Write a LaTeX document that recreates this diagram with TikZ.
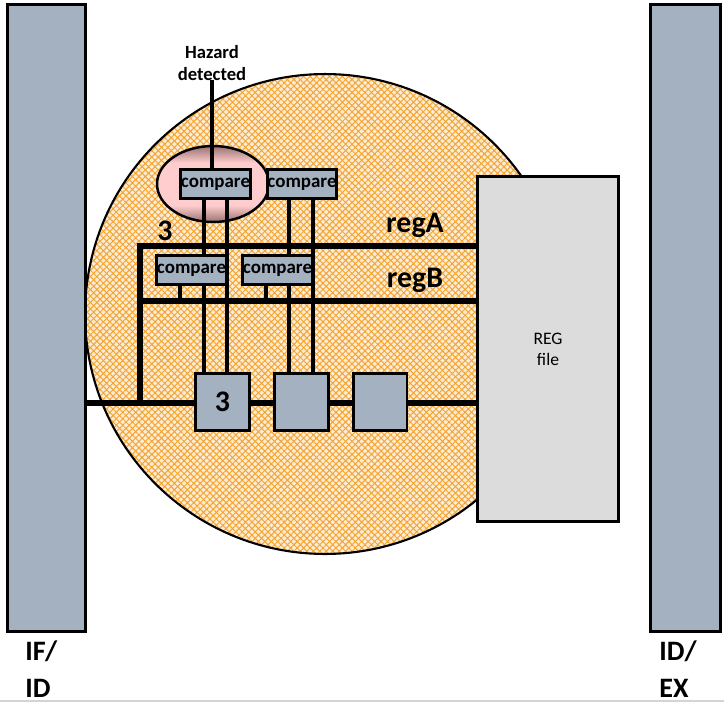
\documentclass[tikz,border=0pt]{standalone}
\usepackage{fontspec}
\setmainfont{Carlito}
\usepackage{xcolor}
\usetikzlibrary{positioning,calc,shapes.geometric,patterns.meta}
\definecolor{latchgray}{HTML}{A3B1C0}
\definecolor{regfilegray}{HTML}{DCDCDC}
\definecolor{hatchorange}{HTML}{F4A431}
\definecolor{hazpink}{HTML}{FFCDCD}
\definecolor{hazdark}{HTML}{9A7171}
\definecolor{framegray}{HTML}{D4D4D4}
\pgfdeclarelayer{bg}
\pgfdeclarelayer{wires}
\pgfsetlayers{bg,wires,main}
\pgfdeclareverticalshading{hazshade}{100bp}{color(0bp)=(hazdark); color(25bp)=(hazdark);
  color(36bp)=(hazpink); color(64bp)=(hazpink); color(75bp)=(hazdark); color(100bp)=(hazdark)}
\tikzset{
  latchbar/.style={draw=black,fill=latchgray,line width=1.7pt,inner sep=0pt,
                   minimum height=12.54cm},
  cmpbox/.style={draw=black,fill=latchgray,line width=1.7pt,inner sep=0pt,
                 minimum width=1.36cm,minimum height=0.58cm,
                 font=\bfseries\fontsize{10.8}{12}\selectfont},
  regbox/.style={draw=black,fill=latchgray,line width=1.7pt,inner sep=0pt,
                 minimum width=1.08cm,minimum height=1.14cm,
                 font=\bfseries\fontsize{17}{20}\selectfont},
  regfilebox/.style={draw=black,fill=regfilegray,line width=1.7pt,inner sep=0pt,
                     minimum width=2.82cm,minimum height=6.89cm,align=center,
                     font=\fontsize{10}{12}\selectfont},
  stagezone/.style={circle,draw=black,line width=1.2pt,minimum size=9.6cm,inner sep=0pt,
                    preaction={fill=hatchorange!22},
                    pattern={Hatch[angle=45,distance=2.6pt,line width=0.55pt]},
                    pattern color=hatchorange},
  hazring/.style={ellipse,draw=black,line width=1.4pt,minimum width=2.24cm,
                  minimum height=1.52cm,inner sep=0pt,shade,shading=hazshade},
  bus/.style={line width=3.7pt},
  lead/.style={line width=1.9pt},
  busname/.style={font=\bfseries\fontsize{17}{20}\selectfont,inner sep=0pt},
  stagelbl/.style={font=\bfseries\fontsize{16}{21.5}\selectfont,align=left,
                   inner sep=0pt,anchor=north west},
  hazlbl/.style={font=\bfseries\fontsize{10.6}{12}\selectfont,align=center,inner sep=0pt}
}
\begin{document}
\begin{tikzpicture}[x=0.02cm,y=-0.02cm]
  \useasboundingbox (0,0) rectangle (724,703);

  \begin{pgfonlayer}{bg}
    \node[stagezone] (zone) at (325,314) {};
    \node[hazring] (ring) at (213,184) {};
  \end{pgfonlayer}

  % pipeline latches
  \node[latchbar,minimum width=1.56cm] (ifid) at (46.5,318) {};
  \node[latchbar,minimum width=1.40cm] (idex) at (685.5,318) {};
  \node[stagelbl] (ifidlbl) at (25,640) {IF/\\ID};
  \node[stagelbl] (idexlbl) at (659,640) {ID/\\EX};

  \node[regfilebox] (regfile) at (548,349) {REG\\file};

  \node[cmpbox] (cmpA1) at (215.5,184) {compare};
  \node[cmpbox] (cmpA2) at (302,184) {compare};
  \node[cmpbox] (cmpB1) at (191.5,270) {compare};
  \node[cmpbox] (cmpB2) at (277.5,270) {compare};

  \node[regbox] (rs1) at (222.5,402) {3};
  \node[regbox] (rs2) at (301.5,402) {};
  \node[regbox] (rs3) at (380,402) {};

  \node[hazlbl] (hazard) at (212,63) {Hazard\\detected};
  \node[busname,anchor=base] (regAlbl) at (415,232) {regA};
  \node[busname,anchor=base] (regBlbl) at (415,287) {regB};
  \node[busname,anchor=base] (cnt) at (165,240) {3};

  \coordinate (corner) at (140,246);
  \coordinate (busB) at (140,301);
  \coordinate (tap) at (140,403);
  \coordinate (la1) at (204,0);
  \coordinate (la2) at (227,0);
  \coordinate (la3) at (289,0);
  \coordinate (la4) at (313,0);
  \coordinate (lb1) at (180,0);
  \coordinate (lb2) at (266,0);

  \begin{pgfonlayer}{wires}
    \draw[bus] (regfile.west |- corner) -- (corner) -- (tap);
    \draw[bus] (busB) -- (regfile.west |- busB);
    \draw[bus] (ifid.east |- tap) -- (regfile.west |- tap);
    \draw[lead] (hazard.south) -- (hazard.south |- cmpA1.north);
    \draw[lead] (cmpA1 -| la1) -- (rs1.north -| la1);
    \draw[lead] (cmpA1 -| la2) -- (rs1.north -| la2);
    \draw[lead] (cmpA2 -| la3) -- (rs2.north -| la3);
    \draw[lead] (cmpA2 -| la4) -- (rs2.north -| la4);
    \draw[lead] (cmpB1 -| lb1) -- (busB -| lb1);
    \draw[lead] (cmpB2 -| lb2) -- (busB -| lb2);
  \end{pgfonlayer}

  \draw[framegray,line width=0.8pt] (0,701) -- (724,701);
\end{tikzpicture}
\end{document}
